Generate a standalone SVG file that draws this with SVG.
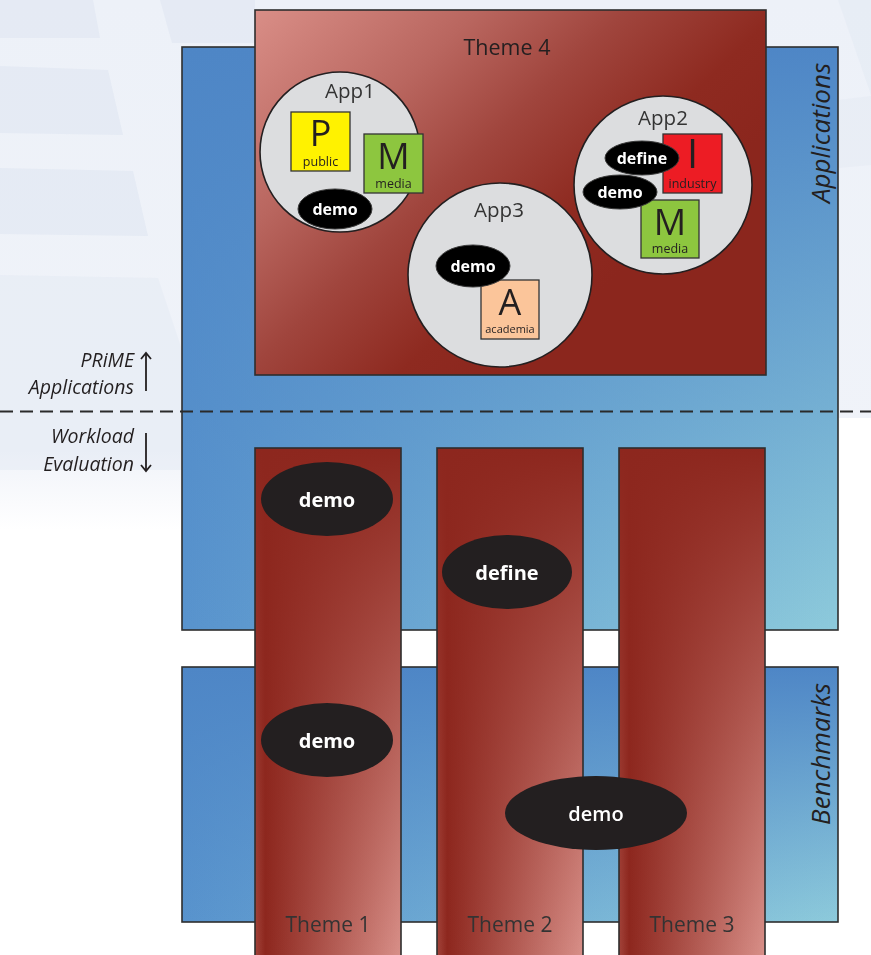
<svg xmlns="http://www.w3.org/2000/svg" width="871" height="955" viewBox="0 0 871 955">
  <defs>
    <!-- blue layer boxes: light horizontal sweep at the bottom, flat blue at the top -->
    <linearGradient id="blueBase" x1="0" y1="0" x2="1" y2="0">
      <stop offset="0" stop-color="#5893CD"/>
      <stop offset="1" stop-color="#8DCADB"/>
    </linearGradient>
    <linearGradient id="blueTop" x1="0" y1="0" x2="0" y2="1">
      <stop offset="0" stop-color="#4E86C6" stop-opacity="1"/>
      <stop offset="1" stop-color="#4E86C6" stop-opacity="0"/>
    </linearGradient>
    <!-- vertical theme columns -->
    <linearGradient id="colBase" x1="0" y1="0" x2="1" y2="0">
      <stop offset="0" stop-color="#A3443B"/>
      <stop offset="0.07" stop-color="#8D271E"/>
      <stop offset="1" stop-color="#D9918A"/>
    </linearGradient>
    <linearGradient id="colTop" x1="0" y1="0" x2="0" y2="1">
      <stop offset="0" stop-color="#8D271E" stop-opacity="1"/>
      <stop offset="1" stop-color="#8D271E" stop-opacity="0"/>
    </linearGradient>
    <!-- horizontal theme block -->
    <linearGradient id="theme4Fill" gradientUnits="userSpaceOnUse" x1="255" y1="10" x2="560" y2="330">
      <stop offset="0" stop-color="#D98E87"/>
      <stop offset="0.35" stop-color="#B9665F"/>
      <stop offset="0.58" stop-color="#A0453D"/>
      <stop offset="0.82" stop-color="#8E2A20"/>
      <stop offset="1" stop-color="#8B261D"/>
    </linearGradient>
    <linearGradient id="bgFade" x1="0" y1="0" x2="0" y2="1">
      <stop offset="0" stop-color="#EDF1F8"/>
      <stop offset="0.85" stop-color="#F0F3F9"/>
      <stop offset="1" stop-color="#FFFFFF"/>
    </linearGradient>
    <marker id="chev" viewBox="0 0 12 12" refX="6" refY="6" markerWidth="12" markerHeight="12" markerUnits="userSpaceOnUse" orient="auto">
      <path d="M1 1 L7 6 L1 11" fill="none" stroke="#231F20" stroke-width="1.8"/>
    </marker>
    <style>
      .lay { stroke: #2E2E2E; stroke-width: 1.6; }
      .app { fill: #DCDDDF; stroke: #231F20; stroke-width: 1.6; }
      .tag { stroke: #333; stroke-width: 1.3; }
      .pill { fill: #000; stroke: #3A3A3A; stroke-width: 1; }
      .bigpill { fill: #231F20; }
      .t { font-family: "Open Sans", "Noto Sans", "Liberation Sans", sans-serif; fill: #231F20; text-anchor: middle; }
      .g { fill: #333333; }
      .side { font-family: "Open Sans", "Noto Sans", "Liberation Sans", sans-serif; font-style: italic; fill: #231F20; }
      .w { fill: #FFFFFF; font-weight: bold; }
      .ws { fill: #FFFFFF; font-weight: 600; }
      .letter { font-size: 36px; }
      .small { font-size: 12.5px; }
    </style>
  </defs>

  <!-- page background with soft bands -->
  <g id="background">
    <rect width="871" height="955" fill="#FFFFFF"/>
    <path d="M0 0 H871 V418 H182 V530 H0 Z" fill="url(#bgFade)"/>
    <g fill="#DFE6F2" opacity="0.6">
      <path d="M0 0 H93 L100 38 H0 Z"/>
      <path d="M160 0 H255 V43 H172 Z"/>
      <path d="M0 66 L108 70 L123 135 L0 133 Z"/>
      <path d="M0 168 L133 171 L148 236 L0 234 Z"/>
      <path d="M0 275 L158 278 L182 350 V470 L0 470 Z" opacity="0.6"/>
      <path d="M838 0 H871 V95 Z" opacity="0.6"/>
      <path d="M838 100 L871 96 V165 L838 168 Z" opacity="0.5"/>
    </g>
  </g>

  <!-- layer boxes -->
  <g id="applications-layer">
    <rect x="182" y="47" width="656" height="583" fill="url(#blueBase)"/>
    <rect x="182" y="47" width="656" height="583" fill="url(#blueTop)" class="lay"/>
    <text class="side" font-size="26" text-anchor="middle" transform="translate(830,133) rotate(-90)">Applications</text>
  </g>
  <g id="benchmarks-layer">
    <rect x="182" y="667" width="656" height="255" fill="url(#blueBase)"/>
    <rect x="182" y="667" width="656" height="255" fill="url(#blueTop)" class="lay"/>
    <text class="side" font-size="26" text-anchor="middle" transform="translate(830,754) rotate(-90)">Benchmarks</text>
  </g>

  <!-- Theme 4 with its applications -->
  <g id="theme4">
    <rect x="255" y="10" width="511" height="365" fill="url(#theme4Fill)" class="lay"/>
    <text class="t" x="507" y="55" font-size="21.5">Theme 4</text>
  </g>

  <g id="app1">
    <circle class="app" cx="340" cy="152" r="80"/>
    <text class="t g" x="350" y="98" font-size="20.5">App1</text>
    <rect class="tag" x="291" y="112" width="59" height="59" fill="#FFF200"/>
    <text class="t" x="320.5" y="146" font-size="36">P</text>
    <text class="t small" x="320.5" y="166">public</text>
    <rect class="tag" x="364" y="134" width="59" height="59" fill="#8DC63F"/>
    <text class="t letter" x="393.5" y="169">M</text>
    <text class="t small" x="393.5" y="188">media</text>
    <ellipse class="pill" cx="335" cy="209" rx="37" ry="20"/>
    <text class="t w" x="335" y="215" font-size="16">demo</text>
  </g>

  <g id="app3">
    <circle class="app" cx="500" cy="275" r="92"/>
    <text class="t g" x="499" y="217" font-size="20.5">App3</text>
    <rect class="tag" x="481" y="280" width="58" height="59" fill="#FBC59A"/>
    <text class="t letter" x="510" y="315">A</text>
    <text class="t" x="510" y="333" font-size="11">academia</text>
    <ellipse class="pill" cx="473" cy="266" rx="37" ry="21"/>
    <text class="t w" x="473" y="272" font-size="16">demo</text>
  </g>

  <g id="app2">
    <circle class="app" cx="663" cy="185" r="89"/>
    <text class="t g" x="663" y="125" font-size="20.5">App2</text>
    <rect class="tag" x="663" y="134" width="59" height="59" fill="#ED1C24"/>
    <text class="t" x="692.5" y="168" font-size="40">I</text>
    <text class="t small" x="692.5" y="188">industry</text>
    <rect class="tag" x="641" y="200" width="58" height="58" fill="#8DC63F"/>
    <text class="t letter" x="670" y="235">M</text>
    <text class="t small" x="670" y="253">media</text>
    <ellipse class="pill" cx="642" cy="158" rx="37" ry="17"/>
    <text class="t w" x="642" y="164" font-size="16">define</text>
    <ellipse class="pill" cx="620" cy="192" rx="37" ry="17"/>
    <text class="t w" x="620" y="198" font-size="16">demo</text>
  </g>

  <!-- vertical themes -->
  <g id="theme1">
    <rect x="255" y="448" width="146" height="515" fill="url(#colBase)"/>
    <rect x="255" y="448" width="146" height="515" fill="url(#colTop)" class="lay"/>
    <text class="t g" x="328" y="932" font-size="21">Theme 1</text>
  </g>
  <g id="theme2">
    <rect x="437" y="448" width="146" height="515" fill="url(#colBase)"/>
    <rect x="437" y="448" width="146" height="515" fill="url(#colTop)" class="lay"/>
    <text class="t g" x="510" y="932" font-size="21">Theme 2</text>
  </g>
  <g id="theme3">
    <rect x="619" y="448" width="146" height="515" fill="url(#colBase)"/>
    <rect x="619" y="448" width="146" height="515" fill="url(#colTop)" class="lay"/>
    <text class="t g" x="692" y="932" font-size="21">Theme 3</text>
  </g>

  <!-- workload markers on the themes -->
  <g id="demo-t1-eval">
    <ellipse class="bigpill" cx="327" cy="499" rx="66" ry="37"/>
    <text class="t w" x="327" y="507" font-size="20">demo</text>
  </g>
  <g id="define-t2-eval">
    <ellipse class="bigpill" cx="507" cy="572" rx="65" ry="37"/>
    <text class="t w" x="507" y="580" font-size="20">define</text>
  </g>
  <g id="demo-t1-bench">
    <ellipse class="bigpill" cx="327" cy="740" rx="66" ry="37"/>
    <text class="t w" x="327" y="748" font-size="20">demo</text>
  </g>
  <g id="demo-t23-bench">
    <ellipse class="bigpill" cx="596" cy="813" rx="91" ry="37"/>
    <text class="t ws" x="596" y="821" font-size="20">demo</text>
  </g>

  <!-- boundary line and direction arrows -->
  <g id="connectors">
    <line x1="0" y1="411.5" x2="871" y2="411.5" stroke="#2A2A2A" stroke-width="1.8" stroke-dasharray="13 7"/>
    <line x1="146" y1="391" x2="146" y2="354" stroke="#231F20" stroke-width="1.8" marker-end="url(#chev)"/>
    <line x1="146" y1="433" x2="146" y2="470" stroke="#231F20" stroke-width="1.8" marker-end="url(#chev)"/>
  </g>

  <g id="side-labels">
    <text class="side" x="134" y="367" font-size="19.5" text-anchor="end">PRiME</text>
    <text class="side" x="134" y="394" font-size="19.5" text-anchor="end">Applications</text>
    <text class="side" x="134" y="443" font-size="19.5" text-anchor="end">Workload</text>
    <text class="side" x="134" y="471" font-size="19.5" text-anchor="end">Evaluation</text>
  </g>
</svg>
